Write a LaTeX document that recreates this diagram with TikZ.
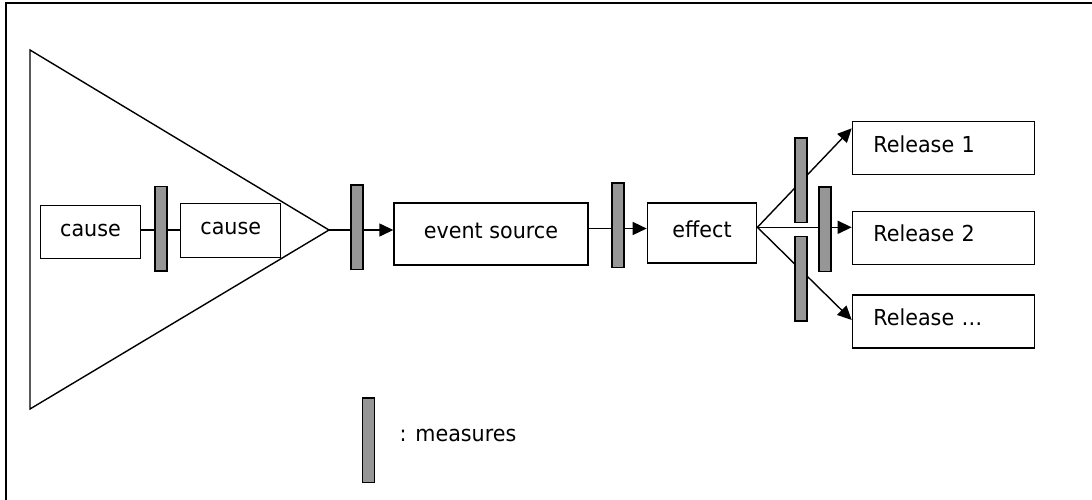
\documentclass[tikz,border=0pt]{standalone}
\usepackage{fontspec}
\setmainfont[FakeStretch=0.94]{DejaVu Sans}
\usetikzlibrary{arrows.meta}
\definecolor{barfill}{HTML}{969696}
\begin{document}
\begin{tikzpicture}[x=1pt,y=-1pt,
  line width=1.4pt,
  font=\fontsize{22}{26}\selectfont,
  box/.style={draw, fill=white, anchor=north west, inner sep=0pt,
    text height=12pt, text depth=4pt},
  relbox/.style={box, inner xsep=21pt, text width=140.3pt, align=left,
    minimum height=53pt},
  measure/.style={draw, fill=barfill, anchor=north west, inner sep=0pt,
    minimum width=12pt, minimum height=84.5pt, line width=1.5pt},
  flow/.style={-{Triangle[length=14pt,width=13pt]}},
  link/.style={-}
]
\useasboundingbox (0,0) rectangle (1092,499);

% outer frame
\draw[line width=2pt] (1100,3) -- (6,3) -- (6,510);

% funnel of causes
\draw (30,50) -- (329,230) -- (30,409) -- cycle;
\coordinate (apex) at (329,230);

% boxes
\node[box, minimum width=100.5pt, minimum height=53pt] (cause1) at (39.5,205) {cause};
\node[box, minimum width=100pt, minimum height=54pt] (cause2) at (180,202.7) {cause};
\node[box, minimum width=194pt, minimum height=62pt] (source) at (393.3,202.3) {event source};
\node[box, minimum width=109.3pt, minimum height=60pt] (effect) at (646.7,202.3) {effect};
\node[relbox] (rel1) at (851.7,121) {Release 1};
\node[relbox] (rel2) at (851.7,210.7) {Release 2};
\node[relbox] (rel3) at (851.7,294.3) {Release …};

% connectors
\coordinate (fan) at (effect.east |- 0,227.3);
\draw[link] (cause1.east |- apex) -- (cause2.west |- apex);
\draw[flow] (apex) -- (source.west |- apex);
\draw[flow] (source.east |- 0,228.5) -- (effect.west |- 0,228.5);
\draw[flow] (fan) -- (rel1.north west |- 0,128.3);
\draw[flow] (fan) -- (rel2.west |- fan);
\draw[flow] (fan) -- (rel3.north west |- 0,320);

% measures placed on the connectors
\node[measure] (m1) at (154,185.5) {};
\node[measure] (m2) at (350,184.3) {};
\node[measure] (m3) at (611,182.3) {};
\node[measure] (m4) at (794,137.3) {};
\node[measure] (m5) at (818,186) {};
\node[measure] (m6) at (794,235.7) {};

% legend
\node[measure] (key) at (361.7,397.3) {};
\node[anchor=base west, inner sep=0pt] (keytext) at (399,441) {: measures};
\end{tikzpicture}
\end{document}
